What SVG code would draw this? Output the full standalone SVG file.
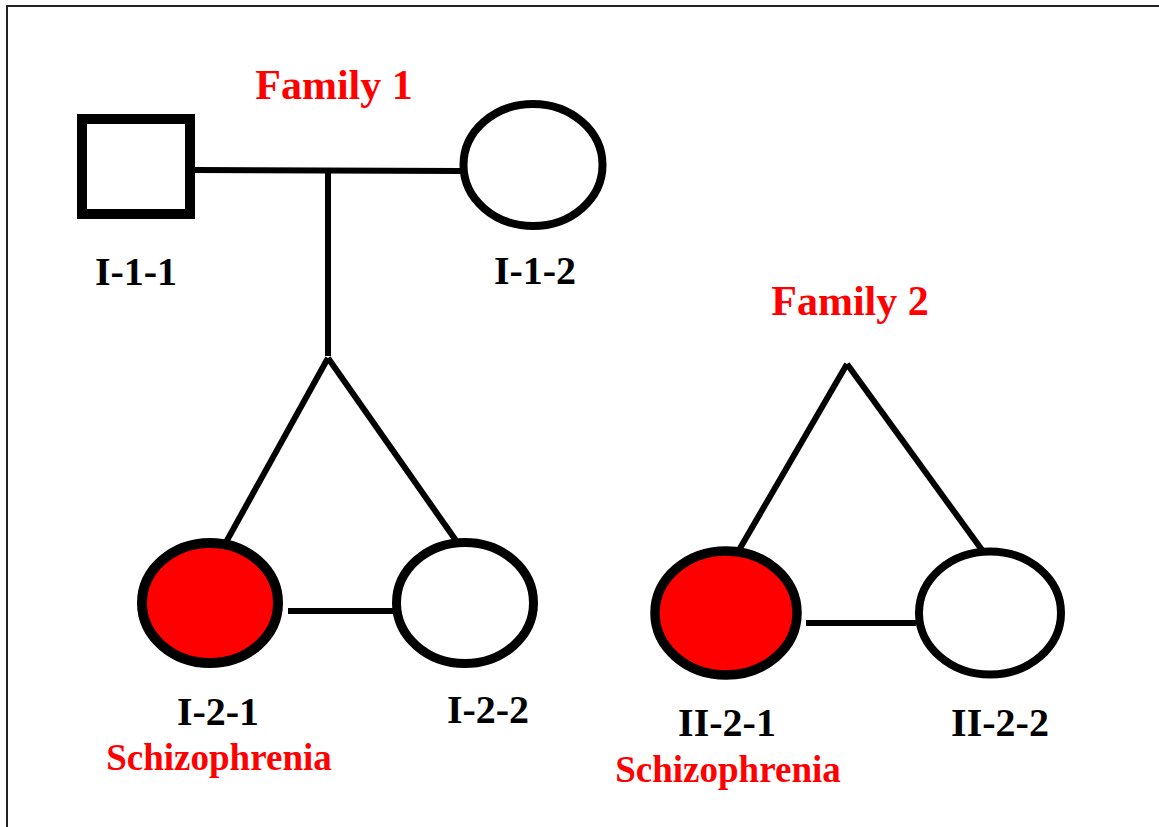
<svg xmlns="http://www.w3.org/2000/svg" width="1159" height="827" viewBox="0 0 1159 827">
  <style>
    .shape { stroke: #000; fill: #fff; }
    .affected { fill: #ff0000; }
    .link { stroke: #000; stroke-width: 6; fill: none; }
    .id { font-family: "Liberation Serif", "Times New Roman", serif; font-weight: bold; font-size: 40px; fill: #000; text-anchor: middle; }
    .title { font-family: "Liberation Serif", "Times New Roman", serif; font-weight: bold; font-size: 42px; fill: #ff0000; text-anchor: middle; }
    .dx { font-family: "Liberation Serif", "Times New Roman", serif; font-weight: bold; font-size: 37px; fill: #ff0000; text-anchor: middle; }
  </style>
  <rect width="1159" height="827" fill="#fff"/>
  <!-- page frame -->
  <path d="M7,827 V6 H1159" fill="none" stroke="#222" stroke-width="2"/>

  <!-- connectors -->
  <g id="connectors">
    <line class="link" x1="195" y1="170" x2="462" y2="171"/>
    <line class="link" x1="328" y1="170" x2="328" y2="356"/>
    <line class="link" x1="328" y1="358" x2="225" y2="544"/>
    <line class="link" x1="328" y1="358" x2="457" y2="542"/>
    <line class="link" x1="288" y1="611" x2="393" y2="611" stroke-width="7"/>
    <line class="link" x1="847" y1="364" x2="739" y2="550"/>
    <line class="link" x1="847" y1="364" x2="982" y2="550"/>
    <line class="link" x1="806" y1="623" x2="916" y2="623" stroke-width="7"/>
  </g>

  <g id="family1-title">
    <text class="title" x="334" y="99">Family 1</text>
  </g>
  <g id="family2-title">
    <text class="title" x="850" y="315">Family 2</text>
  </g>

  <g id="I-1-1">
    <rect class="shape" x="82" y="119" width="108" height="95" stroke-width="10"/>
    <text class="id" x="136" y="285">I-1-1</text>
  </g>
  <g id="I-1-2">
    <ellipse class="shape" cx="533" cy="165" rx="69.5" ry="61" stroke-width="8"/>
    <text class="id" x="535" y="284">I-1-2</text>
  </g>
  <g id="I-2-1">
    <ellipse class="shape affected" cx="210" cy="603" rx="68" ry="60" stroke-width="10"/>
    <text class="id" x="218" y="725">I-2-1</text>
    <text class="dx" x="219" y="770">Schizophrenia</text>
  </g>
  <g id="I-2-2">
    <ellipse class="shape" cx="465" cy="603" rx="68.5" ry="60.5" stroke-width="9"/>
    <text class="id" x="488" y="723">I-2-2</text>
  </g>
  <g id="II-2-1">
    <ellipse class="shape affected" cx="726" cy="613" rx="71" ry="62" stroke-width="9.5"/>
    <text class="id" x="727" y="736">II-2-1</text>
    <text class="dx" x="728" y="782">Schizophrenia</text>
  </g>
  <g id="II-2-2">
    <ellipse class="shape" cx="990" cy="613" rx="71" ry="61.5" stroke-width="8"/>
    <text class="id" x="1000" y="736">II-2-2</text>
  </g>
</svg>
